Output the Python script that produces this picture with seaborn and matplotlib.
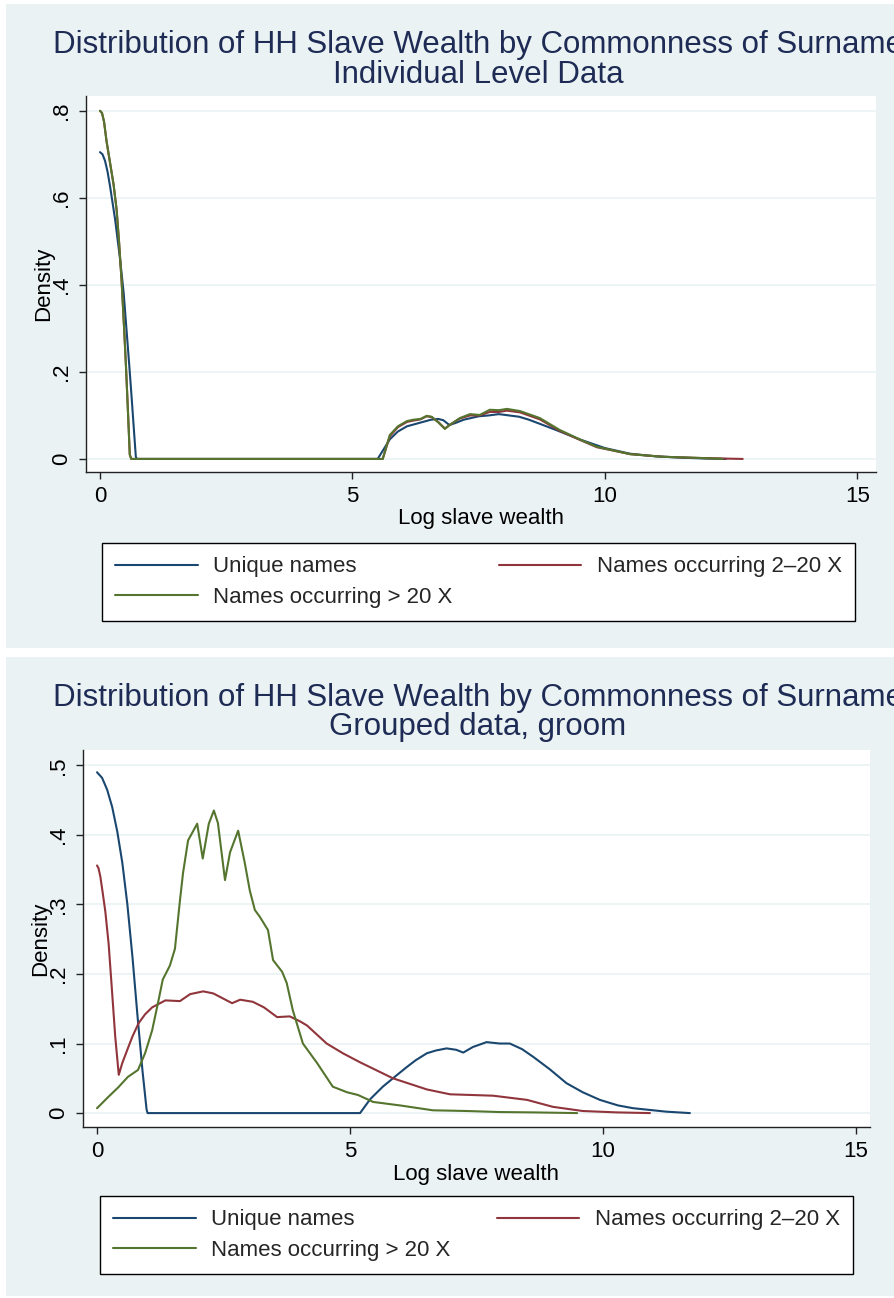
import matplotlib
matplotlib.use('Agg')
import matplotlib.pyplot as plt
import seaborn as sns
from matplotlib.patches import Rectangle

# Dados (densidades estimadas)
legend_labels = ['Unique names', 'Names occurring 2\u201320 X', 'Names occurring > 20 X']
titulo = 'Distribution of HH Slave Wealth by Commonness of Surname'
subtitulos = ['Individual Level Data', 'Grouped data, groom']
x_ticks = [0, 5, 10, 15]
top_yticks = [0, 0.2, 0.4, 0.6, 0.8]
top_yticklabels = ['0', '.2', '.4', '.6', '.8']
bot_yticks = [0, 0.1, 0.2, 0.3, 0.4, 0.5]
bot_yticklabels = ['0', '.1', '.2', '.3', '.4', '.5']

# Painel 1: individual level
top_blue_x = [0, 0.05, 0.1, 0.15, 0.2, 0.3, 0.4, 0.47, 0.53, 0.58, 0.63, 0.67, 0.71, 0.73,
              5.5, 5.74, 5.9, 6.08, 6.3, 6.55, 6.7, 6.8, 6.92, 7.05, 7.2, 7.5, 7.7, 7.9,
              8.1, 8.3, 8.5, 9.0, 9.5, 10.0, 10.5, 11.0, 11.5, 12.0, 12.4]
top_blue_y = [0.705, 0.7, 0.685, 0.66, 0.626, 0.55, 0.457, 0.38, 0.29, 0.215, 0.136, 0.07,
              0.005, 0, 0, 0.045, 0.063, 0.075, 0.082, 0.09, 0.092, 0.089, 0.078, 0.083,
              0.09, 0.098, 0.1, 0.103, 0.1, 0.097, 0.09, 0.068, 0.045, 0.025, 0.012,
              0.006, 0.003, 0.001, 0]
top_red_x = [0, 0.04, 0.08, 0.13, 0.2, 0.27, 0.33, 0.38, 0.43, 0.48, 0.515, 0.55, 0.59, 0.62,
             5.6, 5.74, 5.9, 6.08, 6.2, 6.35, 6.47, 6.57, 6.7, 6.83, 6.95, 7.13, 7.33,
             7.52, 7.72, 7.9, 8.06, 8.32, 8.71, 9.1, 9.5, 9.84, 10.5, 11.15, 11.94, 12.73]
top_red_y = [0.80, 0.795, 0.775, 0.73, 0.68, 0.63, 0.572, 0.495, 0.405, 0.295, 0.212, 0.12,
             0.01, 0, 0, 0.052, 0.073, 0.085, 0.088, 0.091, 0.098, 0.096, 0.085, 0.07,
             0.08, 0.093, 0.1, 0.1, 0.108, 0.108, 0.111, 0.107, 0.091, 0.065, 0.044,
             0.027, 0.011, 0.005, 0.002, 0]
top_green_x = [0, 0.04, 0.08, 0.13, 0.2, 0.27, 0.33, 0.38, 0.43, 0.48, 0.515, 0.55, 0.59,
               0.62, 5.6, 5.74, 5.9, 6.08, 6.2, 6.35, 6.47, 6.57, 6.7, 6.83, 6.95, 7.13,
               7.33, 7.52, 7.72, 7.9, 8.06, 8.32, 8.71, 9.1, 9.5, 9.84, 10.5, 11.15,
               11.94, 12.33]
top_green_y = [0.80, 0.795, 0.775, 0.73, 0.68, 0.63, 0.572, 0.495, 0.405, 0.295, 0.212,
               0.12, 0.01, 0, 0, 0.055, 0.075, 0.087, 0.09, 0.092, 0.099, 0.097, 0.084,
               0.069, 0.08, 0.094, 0.103, 0.101, 0.113, 0.112, 0.115, 0.110, 0.094, 0.067,
               0.045, 0.028, 0.011, 0.005, 0.002, 0]

# Painel 2: grouped data, groom
bot_blue_x = [0, 0.1, 0.2, 0.3, 0.4, 0.5, 0.6, 0.7, 0.8, 0.9, 0.98, 1.0, 5.2, 5.4, 5.65,
              5.9, 6.12, 6.3, 6.52, 6.7, 6.91, 7.1, 7.24, 7.43, 7.7, 7.96, 8.16, 8.4,
              8.62, 8.95, 9.28, 9.6, 9.94, 10.3, 10.6, 11.26, 11.72]
bot_blue_y = [0.49, 0.482, 0.465, 0.44, 0.405, 0.36, 0.30, 0.225, 0.14, 0.06, 0.005, 0, 0,
              0.02, 0.038, 0.053, 0.066, 0.076, 0.086, 0.09, 0.093, 0.091, 0.087, 0.095,
              0.102, 0.1, 0.1, 0.092, 0.081, 0.063, 0.043, 0.03, 0.019, 0.011, 0.007,
              0.002, 0]
bot_red_x = [0, 0.03, 0.066, 0.11, 0.164, 0.23, 0.3, 0.36, 0.43, 0.5, 0.625, 0.7, 0.82,
             0.95, 1.09, 1.35, 1.64, 1.84, 2.1, 2.3, 2.67, 2.83, 3.08, 3.3, 3.56, 3.81,
             4.01, 4.15, 4.54, 4.86, 5.2, 5.85, 6.52, 6.98, 7.83, 8.5, 9.01, 9.6, 10.27,
             10.93]
bot_red_y = [0.356, 0.352, 0.34, 0.318, 0.29, 0.243, 0.172, 0.11, 0.055, 0.072, 0.096,
             0.11, 0.129, 0.142, 0.152, 0.162, 0.161, 0.171, 0.175, 0.172, 0.158, 0.163,
             0.16, 0.152, 0.138, 0.139, 0.132, 0.126, 0.1, 0.086, 0.073, 0.05, 0.034,
             0.027, 0.025, 0.019, 0.009, 0.003, 0.001, 0]
bot_green_x = [0, 0.22, 0.42, 0.61, 0.81, 0.95, 1.09, 1.21, 1.3, 1.44, 1.54, 1.64, 1.7,
               1.8, 1.98, 2.09, 2.21, 2.31, 2.39, 2.53, 2.63, 2.79, 2.92, 3.02, 3.12,
               3.22, 3.38, 3.48, 3.66, 3.75, 3.87, 4.07, 4.35, 4.66, 4.94, 5.16, 5.46,
               5.99, 6.64, 7.31, 7.96, 8.62, 9.49]
bot_green_y = [0.007, 0.023, 0.037, 0.052, 0.062, 0.086, 0.119, 0.16, 0.192, 0.212, 0.236,
               0.306, 0.345, 0.392, 0.416, 0.366, 0.416, 0.435, 0.417, 0.335, 0.375,
               0.406, 0.36, 0.32, 0.292, 0.282, 0.263, 0.22, 0.203, 0.187, 0.148, 0.1,
               0.072, 0.038, 0.03, 0.026, 0.016, 0.011, 0.004, 0.003, 0.0015, 0.001, 0]

cores = ['#1A476F', '#90353B', '#55752F']
fundo = '#EAF2F3'
cor_titulo = '#1E2B55'

sns.set_theme(style='white')
plt.rcParams['font.family'] = ['Liberation Sans', 'DejaVu Sans']

W, H = 894, 1298
fig = plt.figure(figsize=(W / 100, H / 100), dpi=100)

# Fundos dos paineis (estilo Stata)
for y0, y1 in [(4, 648), (657, 1296)]:
    fig.patches.append(Rectangle((6 / W, 1 - y1 / H), (W - 6) / W, (y1 - y0) / H,
                                 transform=fig.transFigure, facecolor=fundo,
                                 edgecolor='none', zorder=-5))


def px_axes(left, top, right, bottom):
    a = fig.add_axes([left / W, 1 - bottom / H, (right - left) / W, (bottom - top) / H])
    a.set_zorder(2)
    return a


paineis = [
    dict(box=(86, 96, 876, 472), xlim=(-0.277, 15.37), ylim=(-0.03, 0.834),
         yt=top_yticks, ytl=top_yticklabels, sub=subtitulos[0], tb=(53, 83),
         leg=(102, 543, 855, 618),
         series=[(top_blue_x, top_blue_y), (top_red_x, top_red_y), (top_green_x, top_green_y)]),
    dict(box=(83, 750, 870, 1127), xlim=(-0.277, 15.28), ylim=(-0.02, 0.522),
         yt=bot_yticks, ytl=bot_yticklabels, sub=subtitulos[1], tb=(706, 735),
         leg=(100, 1196, 853, 1275),
         series=[(bot_blue_x, bot_blue_y), (bot_red_x, bot_red_y), (bot_green_x, bot_green_y)]),
]

for p in paineis:
    ax = px_axes(*p['box'])
    ax.set_facecolor('white')
    for yv in p['yt']:
        ax.axhline(yv, color=fundo, lw=1.2, zorder=0)
    for (xs, ys), cor, lab in zip(p['series'], cores, legend_labels):
        sns.lineplot(x=xs, y=ys, ax=ax, color=cor, lw=1.5, estimator=None, sort=False,
                     label=lab)
    ax.set_xlim(*p['xlim'])
    ax.set_ylim(*p['ylim'])
    ax.set_xticks(x_ticks)
    ax.set_xticklabels([str(t) for t in x_ticks])
    ax.set_yticks(p['yt'])
    ax.set_yticklabels(p['ytl'], rotation=90, va='center')
    ax.tick_params(axis='both', direction='out', length=5, width=1, color='#222222',
                   labelsize=16, pad=5, left=True, bottom=True, labelcolor='black')
    for s in ['top', 'right']:
        ax.spines[s].set_visible(False)
    for s in ['left', 'bottom']:
        ax.spines[s].set_color('#222222')
        ax.spines[s].set_linewidth(1)
    ax.set_xlabel('Log slave wealth', fontsize=16, color='black')
    ax.set_ylabel('Density', fontsize=16, color='black')
    ax.xaxis.set_label_coords(0.5, -0.097)
    ax.yaxis.set_label_coords(-0.04, 0.5)

    # Titulo em duas linhas
    fig.text(478 / W, 1 - p['tb'][0] / H, titulo, ha='center', va='baseline',
             fontsize=22.5, color=cor_titulo)
    fig.text(478 / W, 1 - p['tb'][1] / H, p['sub'], ha='center', va='baseline',
             fontsize=22.5, color=cor_titulo)

    # Legenda em caixa
    handles, labels = ax.get_legend_handles_labels()
    ordem = [0, 2, 1]
    l0, t0, r0, b0 = p['leg']
    leg = ax.legend([handles[i] for i in ordem], [labels[i] for i in ordem], ncol=2,
                    loc='upper left', mode='expand',
                    bbox_to_anchor=(l0 / W, 1 - b0 / H, (r0 - l0) / W, (b0 - t0) / H),
                    bbox_transform=fig.transFigure, fontsize=16, frameon=True,
                    fancybox=False, framealpha=1, edgecolor='black', handlelength=3.7,
                    handletextpad=0.7, labelspacing=0.42, borderpad=0.6,
                    borderaxespad=0)
    leg.get_frame().set_linewidth(1)

fig.savefig('out.png', dpi=100, facecolor='white')
